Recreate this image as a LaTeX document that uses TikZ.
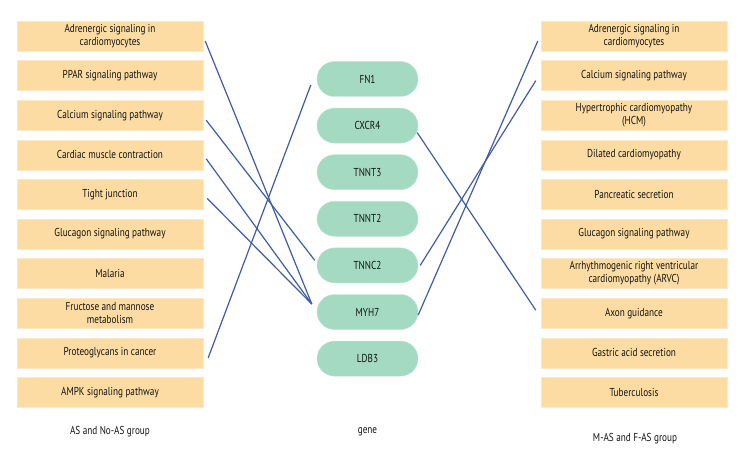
\documentclass[tikz,border=0pt]{standalone}
\usepackage{fontspec}
\setmainfont[FakeStretch=0.8]{PT Sans}
\usetikzlibrary{positioning}
\definecolor{pathorange}{RGB}{252,220,162}
\definecolor{pathedge}{RGB}{253,232,198}
\definecolor{genegreen}{RGB}{163,218,193}
\definecolor{geneedge}{RGB}{188,229,210}
\definecolor{linkblue}{RGB}{62,92,166}
\definecolor{textgray}{RGB}{20,20,20}

\begin{document}
\begin{tikzpicture}[
  x=1pt, y=1pt,
  node distance=9.2pt,
  pathbox/.style={
    draw=pathedge,
    fill=pathorange,
    minimum width=186pt,
    minimum height=30pt,
    inner sep=1pt,
    align=center,
    text=textgray,
    font=\fontsize{11.5}{13}\selectfont
  },
  genebox/.style={
    draw=geneedge,
    fill=genegreen,
    rounded corners=17.5pt,
    minimum width=101pt,
    minimum height=35pt,
    inner sep=1pt,
    text=textgray,
    font=\fontsize{11.5}{13}\selectfont
  },
  grouplabel/.style={text=textgray, font=\fontsize{11.5}{13}\selectfont},
  link/.style={linkblue, line width=1.2pt}
]
\useasboundingbox (0,0) rectangle (744,-468);

% AS and No-AS group
\node[pathbox] (l1) at (110,-36) {Adrenergic signaling in\\cardiomyocytes};
\node[pathbox, below=of l1] (l2) {PPAR signaling pathway};
\node[pathbox, below=of l2] (l3) {Calcium signaling pathway};
\node[pathbox, below=of l3] (l4) {Cardiac muscle contraction};
\node[pathbox, below=of l4] (l5) {Tight junction};
\node[pathbox, below=of l5] (l6) {Glucagon signaling pathway};
\node[pathbox, below=of l6] (l7) {Malaria};
\node[pathbox, below=of l7] (l8) {Fructose and mannose\\metabolism};
\node[pathbox, below=of l8] (l9) {Proteoglycans in cancer};
\node[pathbox, below=of l9] (l10) {AMPK signaling pathway};

% genes
\node[genebox] (g1) at (367.5,-79) {FN1};
\node[genebox, below=11.2pt of g1] (g2) {CXCR4};
\node[genebox, below=11.2pt of g2] (g3) {TNNT3};
\node[genebox, below=11.2pt of g3] (g4) {TNNT2};
\node[genebox, below=11.2pt of g4] (g5) {TNNC2};
\node[genebox, below=11.2pt of g5] (g6) {MYH7};
\node[genebox, below=11.2pt of g6] (g7) {LDB3};

% M-AS and F-AS group
\node[pathbox] (r1) at (634,-36) {Adrenergic signaling in\\cardiomyocytes};
\node[pathbox, below=of r1] (r2) {Calcium signaling pathway};
\node[pathbox, below=of r2] (r3) {Hypertrophic cardiomyopathy\\(HCM)};
\node[pathbox, below=of r3] (r4) {Dilated cardiomyopathy};
\node[pathbox, below=of r4] (r5) {Pancreatic secretion};
\node[pathbox, below=of r5] (r6) {Glucagon signaling pathway};
\node[pathbox, below=of r6] (r7) {Arrhythmogenic right ventricular\\cardiomyopathy (ARVC)};
\node[pathbox, below=of r7] (r8) {Axon guidance};
\node[pathbox, below=of r8] (r9) {Gastric acid secretion};
\node[pathbox, below=of r9] (r10) {Tuberculosis};

\node[grouplabel] (leftlabel) at (110,-432) {AS and No-AS group};
\node[grouplabel] (genelabel) at (367.5,-432) {gene};
\node[grouplabel] (rightlabel) at (635,-439) {M-AS and F-AS group};

% links
\draw[link] ([xshift=2pt,yshift=-5pt]l1.east) -- ([xshift=-5pt,yshift=8pt]g6.west);
\draw[link] ([xshift=3pt,yshift=-5pt]l3.east) -- ([xshift=-2pt,yshift=5pt]g5.west);
\draw[link] ([xshift=3pt,yshift=-4pt]l4.east) -- ([xshift=-5pt,yshift=8pt]g6.west);
\draw[link] ([xshift=4pt,yshift=-4pt]l5.east) -- ([xshift=-5pt,yshift=8pt]g6.west);
\draw[link] ([xshift=5pt,yshift=-5pt]l9.east) -- ([xshift=-6pt,yshift=-6pt]g1.west);
\draw[link] ([xshift=-1pt,yshift=-7pt]g2.east) -- ([xshift=-5pt,yshift=3pt]r8.west);
\draw[link] ([xshift=2pt]g5.east) -- ([xshift=-5pt,yshift=-5pt]r2.west);
\draw[link] ([yshift=-3pt]g6.east) -- ([xshift=-3pt,yshift=-5pt]r1.west);
\end{tikzpicture}
\end{document}
